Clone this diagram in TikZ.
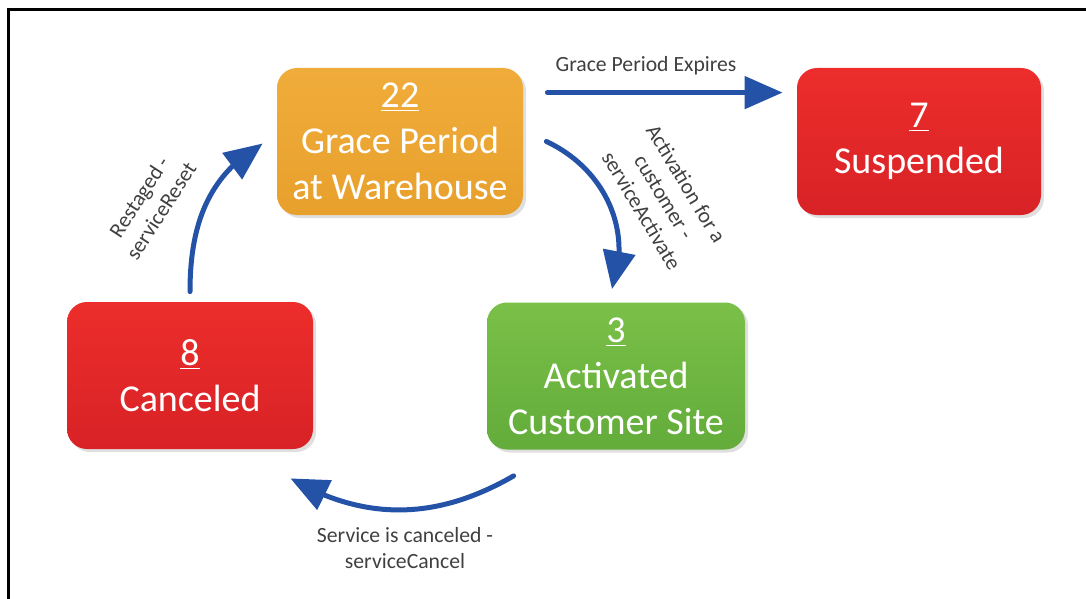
\documentclass[tikz,border=0pt]{standalone}
\usepackage{fontspec}
\setmainfont{Carlito}
\usetikzlibrary{arrows.meta, bending, shadows, positioning}
\definecolor{flowblue}{RGB}{36,82,166}
\definecolor{notegray}{RGB}{64,64,64}
\definecolor{orangetop}{HTML}{F0AC3A}
\definecolor{orangebot}{HTML}{E8A02C}
\definecolor{redtop}{HTML}{EC2D2B}
\definecolor{redbot}{HTML}{D82226}
\definecolor{greentop}{HTML}{7AC048}
\definecolor{greenbot}{HTML}{63AC3B}

\begin{document}
\begin{tikzpicture}[x=0.5pt, y=-0.5pt,
    statebox/.style={rounded corners=10pt, minimum height=73.5pt, inner sep=0pt,
      align=center, text=white, font=\fontsize{19}{23}\selectfont,
      drop shadow={shadow xshift=1.5pt, shadow yshift=-1.5pt, fill=black!25, opacity=0.5}},
    flow/.style={draw=flowblue, line width=2.5pt, line cap=round,
      -{Triangle[length=19pt, width=16pt]}},
    note/.style={align=center, text=notegray, font=\fontsize{10.85}{13}\selectfont}]
  \useasboundingbox (0,0) rectangle (1086,599);
  \draw[line width=1.5pt] (8,599) -- (8,10) -- (1086,10);
  % States
  \node[statebox, minimum width=123pt, top color=orangetop, bottom color=orangebot]
    (grace) at (400,141.5) {\underline{22}\\Grace Period\\at Warehouse};
  \node[statebox, minimum width=122pt, top color=redtop, bottom color=redbot]
    (susp) at (919,141.5) {\underline{7}\\Suspended};
  \node[statebox, minimum width=129pt, top color=greentop, bottom color=greenbot]
    (act) at (616,376) {\underline{3}\\Activated\\Customer Site};
  \node[statebox, minimum width=123pt, top color=redtop, bottom color=redbot]
    (canc) at (190,375.5) {\underline{8}\\Canceled};
  % Transitions
  \draw[flow] ([shift={(24,25)}]grace.north east) -- ([shift={(-14,25)}]susp.north west);
  \draw[flow] ([shift={(23,0)}]grace.east) to[out=-25, in=70] ([shift={(-4,-13)}]act.north);
  \draw[flow] ([shift={(27,26)}]act.south west) to[out=-150, in=-30] ([shift={(-23,29)}]canc.south east);
  \draw[flow] ([shift={(0,-10)}]canc.north) to[out=90, in=-150] ([shift={(-14,2)}]grace.west);
  % Labels
  \node[note] (expires) at (646,66) {Grace Period Expires};
  \node[note, rotate=-59] (activate) at (664,197) {Activation for a\\customer -\\serviceActivate};
  \node[note] (cancel) at (405,548) {Service is canceled -\\serviceCancel};
  \node[note, rotate=57] (reset) at (150,204) {Restaged -\\serviceReset};
\end{tikzpicture}
\end{document}
